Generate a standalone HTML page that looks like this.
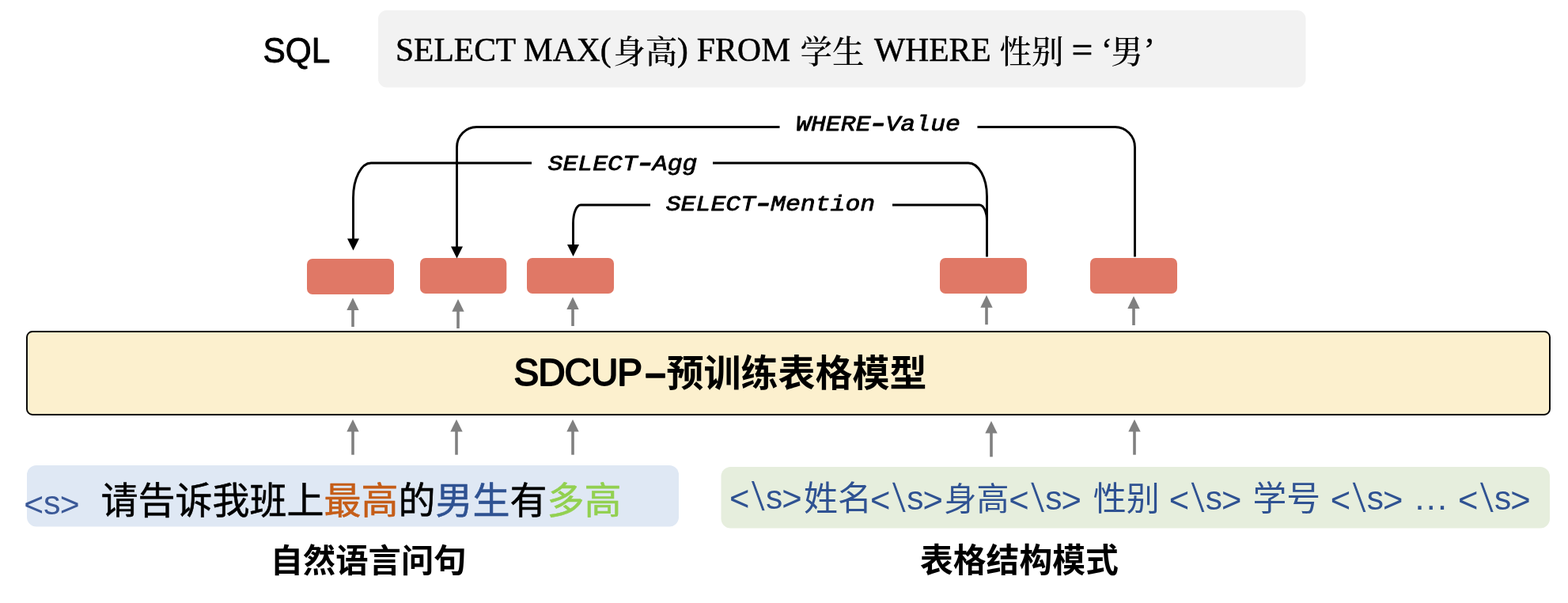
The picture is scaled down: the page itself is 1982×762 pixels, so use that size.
<!DOCTYPE html>
<html lang="zh-CN">
<head>
<meta charset="utf-8">
<title>SDCUP</title>
<style>
html,body{margin:0;padding:0;background:#fff;}
body{width:1982px;height:762px;overflow:hidden;}
svg{display:block;will-change:transform;}
text{white-space:pre;}
</style>
</head>
<body>
<svg width="1982" height="762" viewBox="0 0 1982 762">
<rect width="1982" height="762" fill="#fff"/>
<rect x="478" y="13" width="1172.5" height="97.5" rx="11" fill="#f2f2f2"/>
<rect x="388" y="327" width="110" height="45" rx="7" fill="#e07866"/>
<rect x="531" y="326" width="109.3" height="45" rx="7" fill="#e07866"/>
<rect x="666" y="326" width="110" height="45" rx="7" fill="#e07866"/>
<rect x="1188" y="326" width="110" height="45" rx="7" fill="#e07866"/>
<rect x="1378" y="326" width="110" height="45" rx="7" fill="#e07866"/>
<rect x="34" y="419" width="1925" height="105" rx="7" fill="#fcf0ce" stroke="#000" stroke-width="1.9"/>
<rect x="34" y="588" width="824" height="77.5" rx="12" fill="#dfe8f4"/>
<rect x="911.5" y="590" width="1047.5" height="77.5" rx="12" fill="#e6eedd"/>
<g fill="none" stroke="#000" stroke-width="2.9">
<path d="M1434.5 324.5 V186 A25 25.5 0 0 0 1409.5 160.5 H1235.5 M985.5 160.5 H602.5 A25 25.5 0 0 0 577.5 186 V312"/>
<path d="M1247.5 324.5 V248 A23.5 42 0 0 0 1224 206 H901 M672 206 H469 A22.5 44 0 0 0 446.5 250 V302"/>
<path d="M1247.5 279 A9.5 20 0 0 0 1238 259 H1128 M822 259 H734 A9.5 23 0 0 0 724.5 282 V310"/>
</g>
<path d="M446.5 316.5 L439.0 301.5 L454.0 301.5 Z" fill="#000"/>
<path d="M577.5 326.5 L570.0 311.5 L585.0 311.5 Z" fill="#000"/>
<path d="M724.5 324 L717.0 309 L732.0 309 Z" fill="#000"/>
<path d="M446 413 V389" stroke="#808080" stroke-width="3.6" fill="none"/>
<path d="M446 376.3 L438.3 392.0 L453.7 392.0 Z" fill="#808080"/>
<path d="M579 415 V390.7" stroke="#808080" stroke-width="3.6" fill="none"/>
<path d="M579 378.0 L571.3 393.7 L586.7 393.7 Z" fill="#808080"/>
<path d="M724 412 V388" stroke="#808080" stroke-width="3.6" fill="none"/>
<path d="M724 375.3 L716.3 391.0 L731.7 391.0 Z" fill="#808080"/>
<path d="M1247 410.2 V385.7" stroke="#808080" stroke-width="3.6" fill="none"/>
<path d="M1247 373.0 L1239.3 388.7 L1254.7 388.7 Z" fill="#808080"/>
<path d="M1433 411 V387" stroke="#808080" stroke-width="3.6" fill="none"/>
<path d="M1433 374.3 L1425.3 390.0 L1440.7 390.0 Z" fill="#808080"/>
<path d="M446 574.7 V542.6" stroke="#808080" stroke-width="3.6" fill="none"/>
<path d="M446 529.9 L438.3 545.6 L453.7 545.6 Z" fill="#808080"/>
<path d="M577 574.7 V542.6" stroke="#808080" stroke-width="3.6" fill="none"/>
<path d="M577 529.9 L569.3 545.6 L584.7 545.6 Z" fill="#808080"/>
<path d="M724 574.7 V542.6" stroke="#808080" stroke-width="3.6" fill="none"/>
<path d="M724 529.9 L716.3 545.6 L731.7 545.6 Z" fill="#808080"/>
<path d="M1253 577.3 V544.6" stroke="#808080" stroke-width="3.6" fill="none"/>
<path d="M1253 531.9 L1245.3 547.6 L1260.7 547.6 Z" fill="#808080"/>
<path d="M1434 574.7 V542.6" stroke="#808080" stroke-width="3.6" fill="none"/>
<path d="M1434 529.9 L1426.3 545.6 L1441.7 545.6 Z" fill="#808080"/>
<text id="sql" font-family='"Liberation Sans","Noto Sans CJK SC",sans-serif' font-size="43.5" fill="#000" stroke="#000" stroke-width="0.9" stroke-linejoin="round" transform="translate(332.5 79) scale(0.975 1)">SQL</text>
<text id="q" font-family='"Liberation Serif","Noto Serif CJK SC",serif' fill="#000"><tspan id="q1" x="500" y="77.3" font-size="41.5" stroke="#000" stroke-width="0.5" stroke-linejoin="round">SELECT MAX(</tspan><tspan id="q2" x="775.3" y="80" font-size="40.5" font-weight="500">身高</tspan><tspan id="q3" x="856" y="77.3" font-size="41.5" stroke="#000" stroke-width="0.5" stroke-linejoin="round" letter-spacing="0.28">) FROM </tspan><tspan id="q4" x="1011.6" y="80" font-size="40.5" font-weight="500">学生 </tspan><tspan id="q5" x="1105" y="77.3" font-size="41.5" stroke="#000" stroke-width="0.5" stroke-linejoin="round">WHERE </tspan><tspan id="q6" x="1263.6" y="80" font-size="40.5" font-weight="500">性别 </tspan><tspan id="q7" x="1354.5" y="79.4" font-size="47.7" stroke="#000" stroke-width="0.5" stroke-linejoin="round">= </tspan><tspan id="q8" x="1392" y="77.3" font-size="41.5" stroke="#000" stroke-width="0.5" stroke-linejoin="round">‘</tspan><tspan id="q9" x="1404.3" y="80" font-size="40.5" font-weight="500">男</tspan><tspan id="q10" x="1446" y="77.3" font-size="41.5" stroke="#000" stroke-width="0.5" stroke-linejoin="round">’</tspan></text>
<text id="m1" font-family='"Liberation Mono","DejaVu Sans Mono",monospace' fill="#000" transform="translate(1006.05 165.3) scale(1 0.9)" font-style="italic"><tspan id="m1a" x="0" y="0" font-size="31.5" stroke="#000" stroke-width="0.9" stroke-linejoin="round">WHERE</tspan><tspan id="m1h" x="90.55" y="2.5" font-size="45.67" stroke="#000" stroke-width="0.9" stroke-linejoin="round">-</tspan><tspan id="m1b" x="113.4" y="0" font-size="31.5" stroke="#000" stroke-width="0.9" stroke-linejoin="round">Value</tspan></text>
<text id="m2" font-family='"Liberation Mono","DejaVu Sans Mono",monospace' fill="#000" transform="translate(692.5 215.3) scale(1 0.9)" font-style="italic"><tspan id="m2a" x="0" y="0" font-size="31.5" stroke="#000" stroke-width="0.9" stroke-linejoin="round">SELECT</tspan><tspan id="m2h" x="109.45" y="2.5" font-size="45.67" stroke="#000" stroke-width="0.9" stroke-linejoin="round">-</tspan><tspan id="m2b" x="132.3" y="0" font-size="31.5" stroke="#000" stroke-width="0.9" stroke-linejoin="round">Agg</tspan></text>
<text id="m3" font-family='"Liberation Mono","DejaVu Sans Mono",monospace' fill="#000" transform="translate(841.7 266.3) scale(1 0.9)" font-style="italic"><tspan id="m3a" x="0" y="0" font-size="31.5" stroke="#000" stroke-width="0.9" stroke-linejoin="round">SELECT</tspan><tspan id="m3h" x="109.45" y="2.5" font-size="45.67" stroke="#000" stroke-width="0.9" stroke-linejoin="round">-</tspan><tspan id="m3b" x="132.3" y="0" font-size="31.5" stroke="#000" stroke-width="0.9" stroke-linejoin="round">Mention</tspan></text>
<text id="t" font-family='"Liberation Sans","Noto Sans CJK SC",sans-serif' fill="#000"><tspan id="t1" x="649.4" y="487" font-size="47.6" stroke="#000" stroke-width="1.8" stroke-linejoin="round" letter-spacing="-1">SDCUP</tspan><tspan id="t1d" x="815.5" y="487.2" font-size="47" font-weight="bold" stroke="#000" stroke-width="1.4" stroke-linejoin="round">–</tspan><tspan id="t2" x="842.5" y="487.5" font-size="47" font-weight="bold">预训练表格模型</tspan></text>
<text id="b" font-family='"Liberation Sans","Noto Sans CJK SC",sans-serif' fill="#000"><tspan id="b0a" x="30.26" y="652.2" font-size="42.6" fill="#3b5998">&lt;</tspan><tspan id="b0b" x="54.9" y="650.3" font-size="43" fill="#3b5998">s</tspan><tspan id="b0c" x="75.73" y="652.2" font-size="42.6" fill="#3b5998">&gt; </tspan><tspan id="b1" x="127.5" y="649" font-size="47" stroke="#000" stroke-width="0.55" stroke-linejoin="round">请告诉我班上</tspan><tspan id="b2" x="409.5" y="649" font-size="47" fill="#c55d18" stroke="#c55d18" stroke-width="0.55" stroke-linejoin="round">最高</tspan><tspan id="b3" x="503.5" y="649" font-size="47" stroke="#000" stroke-width="0.55" stroke-linejoin="round">的</tspan><tspan id="b4" x="550.5" y="649" font-size="47" fill="#2f5292" stroke="#2f5292" stroke-width="0.55" stroke-linejoin="round">男生</tspan><tspan id="b5" x="644.5" y="649" font-size="47" stroke="#000" stroke-width="0.55" stroke-linejoin="round">有</tspan><tspan id="b6" x="691.5" y="649" font-size="47" fill="#92d050" stroke="#92d050" stroke-width="0.55" stroke-linejoin="round">多高</tspan></text>
<text id="g" font-family='"Liberation Sans","Noto Sans CJK SC",sans-serif' fill="#2f5292"><tspan id="g0a" x="921.9" y="645.2" font-size="43.5">&lt;</tspan><tspan id="g0b" x="952.4" y="646.2" font-size="53.7" rotate="-5" stroke="#e6eedd" stroke-width="1.1">\</tspan><tspan id="g0c" x="968.0" y="643.2" font-size="42.5">s</tspan><tspan id="g0d" x="988.2" y="645.2" font-size="43.5">&gt;</tspan><tspan id="c0" x="1016.0" y="644.7" font-size="43">姓名</tspan><tspan id="g1a" x="1100.1" y="647.1" font-size="43.5">&lt;</tspan><tspan id="g1b" x="1130.6" y="647.9" font-size="53.7" rotate="-5" stroke="#e6eedd" stroke-width="1.1">\</tspan><tspan id="g1c" x="1146.2" y="644.2" font-size="42.5">s</tspan><tspan id="g1d" x="1166.4" y="647.1" font-size="43.5">&gt;</tspan><tspan id="c1" x="1193.6" y="644.7" font-size="41">身高</tspan><tspan id="g2a" x="1275.2" y="647.1" font-size="43.5">&lt;</tspan><tspan id="g2b" x="1305.7" y="647.9" font-size="53.7" rotate="-5" stroke="#e6eedd" stroke-width="1.1">\</tspan><tspan id="g2c" x="1321.3" y="644.2" font-size="42.5">s</tspan><tspan id="g2d" x="1341.5" y="647.1" font-size="43.5">&gt; </tspan><tspan id="c2" x="1381.8" y="644.7" font-size="42">性别 </tspan><tspan id="g3a" x="1477.7" y="647.1" font-size="43.5">&lt;</tspan><tspan id="g3b" x="1508.2" y="647.9" font-size="53.7" rotate="-5" stroke="#e6eedd" stroke-width="1.1">\</tspan><tspan id="g3c" x="1523.8" y="644.2" font-size="42.5">s</tspan><tspan id="g3d" x="1544.0" y="647.1" font-size="43.5">&gt; </tspan><tspan id="c3" x="1583.4" y="644.7" font-size="42.8">学号 </tspan><tspan id="g4a" x="1681.7" y="647.1" font-size="43.5">&lt;</tspan><tspan id="g4b" x="1712.2" y="647.9" font-size="53.7" rotate="-5" stroke="#e6eedd" stroke-width="1.1">\</tspan><tspan id="g4c" x="1727.8" y="644.2" font-size="42.5">s</tspan><tspan id="g4d" x="1748.0" y="647.1" font-size="43.5">&gt; </tspan><tspan id="dots" x="1786.3" y="644.3" font-size="45">… </tspan><tspan id="g5a" x="1842.9" y="647.1" font-size="43.5">&lt;</tspan><tspan id="g5b" x="1873.4" y="647.9" font-size="53.7" rotate="-5" stroke="#e6eedd" stroke-width="1.1">\</tspan><tspan id="g5c" x="1889.0" y="644.2" font-size="42.5">s</tspan><tspan id="g5d" x="1909.2" y="647.1" font-size="43.5">&gt;</tspan></text>
<text id="l1" x="341.7" y="723" font-family='"Liberation Sans","Noto Sans CJK SC",sans-serif' font-size="41.3" font-weight="bold" fill="#000">自然语言问句</text>
<text id="l2" x="1163" y="722.5" font-family='"Liberation Sans","Noto Sans CJK SC",sans-serif' font-size="41.8" font-weight="bold" fill="#000">表格结构模式</text>
</svg>
</body>
</html>
